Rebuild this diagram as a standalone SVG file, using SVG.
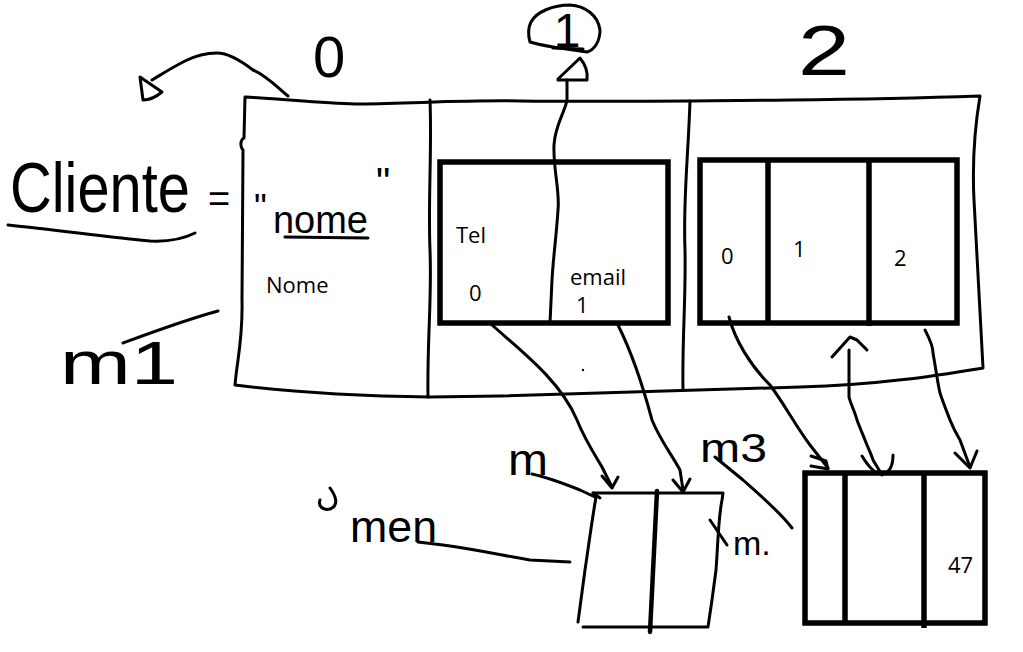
<svg xmlns="http://www.w3.org/2000/svg" width="1023" height="652" viewBox="0 0 1023 652">
<style>
.hand{fill:none;stroke:#000;stroke-width:3;stroke-linecap:round;stroke-linejoin:round}
.thick{fill:none;stroke:#000;stroke-width:5.5}
.typed{font-family:"Open Sans","Noto Sans",sans-serif;font-size:22px;fill:#000}
.script{font-family:"Liberation Sans",Arial,sans-serif;fill:#000}
</style>
<rect width="1023" height="652" fill="#fff"/>

<g id="labels">
  <text class="script" transform="translate(10,212) scale(1,1.18)" x="0" y="0" font-size="60" textLength="180" lengthAdjust="spacingAndGlyphs">Cliente</text>
  <path class="hand" d="M8,225 C60,230 110,238 150,241 C170,242 185,238 195,233"/>
  <text class="script" x="208" y="212" font-size="38">=</text>
  <text class="script" x="313" y="77" font-size="58">0</text>
  <text class="script" x="798" y="75" font-size="70" textLength="52" lengthAdjust="spacingAndGlyphs">2</text>
  <text class="script" x="60" y="384" font-size="62" textLength="118" lengthAdjust="spacingAndGlyphs">m1</text>
  <path class="hand" d="M123,343 C150,333 185,320 218,311"/>
  <text class="script" x="508" y="475" font-size="44" textLength="40" lengthAdjust="spacingAndGlyphs">m</text>
  <text class="script" x="700" y="462" font-size="40" textLength="67" lengthAdjust="spacingAndGlyphs">m3</text>
  <text class="script" x="350" y="542" font-size="44" textLength="87" lengthAdjust="spacingAndGlyphs">men</text>
  <text class="script" x="733" y="555" font-size="34">m.</text>
  <path class="hand" d="M330,488 C335,495 340,505 330,509 C322,511 318,505 320,500"/>
  <circle cx="583" cy="370" r="1.2" fill="#000"/>
</g>

<g id="array-cliente">
  <path class="hand" d="M245,97 C300,100 330,104 360,104 C420,103 470,100 520,101 C600,102 700,101 790,100 C880,99 950,97 980,96 C976,120 972,160 974,200 C977,260 980,320 983,368 C940,375 880,385 800,387 C700,390 600,393 500,396 L430,397 C360,396 300,393 235,385 C237,360 243,340 242,300 L243,150 C240,147 240,140 244,138 Z"/>
  <path class="hand" d="M430,100 C432,150 428,200 430,250 C432,300 427,340 428,397"/>
  <path class="hand" d="M690,101 C688,160 683,200 685,250 C686,300 682,340 683,390"/>
  <text class="script" x="254" y="220" font-size="36">"</text>
  <text class="script" x="273" y="233" font-size="38" textLength="95" lengthAdjust="spacingAndGlyphs">nome</text>
  <path class="hand" d="M285,237 L368,238"/>
  <text class="script" x="376" y="196" font-size="40">"</text>
  <text class="typed" x="266" y="293">Nome</text>
</g>

<g id="box-contatos">
  <rect class="thick" x="440" y="162" width="228" height="161"/>
  <path class="hand" d="M567,80 L567,100 C565,112 555,125 554,145 C553,170 560,190 558,210 C556,240 553,260 552,280 L550,323"/>
  <text class="typed" x="456" y="243">Tel</text>
  <text class="typed" x="469" y="301">0</text>
  <text class="typed" x="570" y="285">email</text>
  <text class="typed" x="576" y="313">1</text>
</g>

<g id="index-1">
  <path class="hand" d="M570,5 C585,6 598,15 600,30 C600,42 594,50 587,52 C570,49 550,48 530,42 C528,35 528,28 531,22 C536,12 553,5 570,5 Z"/>
  <text class="script" x="567" y="47" font-size="48" text-anchor="middle">1</text>
  <path class="hand" d="M553,48 L583,49"/>
</g>

<g id="box-array2">
  <rect class="thick" x="700" y="160" width="257" height="163"/>
  <line class="thick" x1="768" y1="160" x2="768" y2="323"/>
  <line class="thick" x1="869" y1="160" x2="869" y2="326"/>
  <text class="typed" x="721" y="264">0</text>
  <text class="typed" x="793" y="257">1</text>
  <text class="typed" x="894" y="266">2</text>
</g>

<g id="box-m2">
  <path class="hand" d="M593,493 L723,493 L722,500 C718,520 718,545 716,570 L712,600 L708,627 L583,627"/>
  <path class="hand" d="M593,493 L600,498 M596,497 C592,520 588,550 585,570 L578,622"/>
  <path fill="none" stroke="#000" stroke-width="4.5" stroke-linecap="round" d="M657,491 L650,632"/>
</g>

<g id="box-m3">
  <rect class="thick" x="805" y="473" width="180" height="150"/>
  <line class="thick" x1="845" y1="473" x2="845" y2="623"/>
  <line class="thick" x1="924" y1="473" x2="924" y2="628"/>
  <text class="typed" x="948" y="573">47</text>
</g>

<g id="connectors">
  <path class="hand" d="M288,96 C275,85 265,75 253,70 C240,60 228,53 217,53 C205,53 195,56 185,61 C173,67 162,74 152,80"/>
  <path class="hand" d="M140,77 L162,92 C156,97 150,100 143,100 Z"/>
  <path class="hand" d="M558,79 L580,58 C585,64 588,72 587,80 L558,80"/>
  <path class="hand" d="M492,325 C520,350 560,380 577,420 C585,440 595,455 602,467 L612,487"/>
  <path class="hand" d="M602,476 L612,488 L618,477"/>
  <path class="hand" d="M618,325 C628,345 640,375 652,420 C660,440 672,455 680,470 L683,490"/>
  <path class="hand" d="M673,480 L683,492 L690,479"/>
  <path class="hand" d="M729,317 C735,340 750,365 770,385 C785,405 795,425 810,445 L828,468"/>
  <path class="hand" d="M811,456 L826,461 L828,469 M811,466 L828,469"/>
  <path class="hand" d="M849,350 L849,397 C851,405 855,412 857,420 C860,428 863,435 865,440 C868,448 872,456 873,460 L882,475"/>
  <path class="hand" d="M832,357 L850,337 L857,340 L867,350"/>
  <path class="hand" d="M862,456 C868,466 875,475 883,474 C890,472 893,465 893,455"/>
  <path class="hand" d="M925,330 C929,338 933,345 933,353 C936,370 938,385 940,393 C944,405 947,412 950,420 C954,430 957,435 960,440 L970,467"/>
  <path class="hand" d="M955,453 L970,468 L977,451"/>
  <path class="hand" d="M532,474 C550,478 565,484 580,490 L595,497"/>
  <path class="hand" d="M418,542 L443,545 C480,550 505,556 530,560 L570,562"/>
  <path class="hand" d="M710,520 L727,545"/>
  <path class="hand" d="M715,457 L743,480 C760,495 780,512 792,528"/>
</g>
</svg>
